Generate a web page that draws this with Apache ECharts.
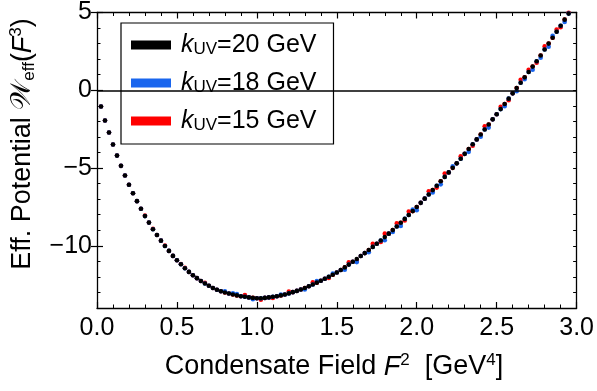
<!DOCTYPE html>
<html>
<head>
<meta charset="utf-8">
<script src="https://cdn.jsdelivr.net/npm/echarts@6/dist/echarts.min.js"></script>
<style>
  html, body { margin: 0; padding: 0; background: #fff; }
  #chart { width: 597px; height: 391px; }
</style>
</head>
<body>
<div id="chart"></div>
<script>
// condensate field F^2 [GeV^4]
const fieldSq = [
  0.025, 0.05, 0.075, 0.1, 0.125, 0.15, 0.175, 0.2, 0.225, 0.25,
  0.275, 0.3, 0.325, 0.35, 0.375, 0.4, 0.425, 0.45, 0.475, 0.5,
  0.525, 0.55, 0.575, 0.6, 0.625, 0.65, 0.675, 0.7, 0.725, 0.75,
  0.775, 0.8, 0.825, 0.85, 0.875, 0.9, 0.925, 0.95, 0.975, 1.0,
  1.025, 1.05, 1.075, 1.1, 1.125, 1.15, 1.175, 1.2, 1.225, 1.25,
  1.275, 1.3, 1.325, 1.35, 1.375, 1.4, 1.425, 1.45, 1.475, 1.5,
  1.525, 1.55, 1.575, 1.6, 1.625, 1.65, 1.675, 1.7, 1.725, 1.75,
  1.775, 1.8, 1.825, 1.85, 1.875, 1.9, 1.925, 1.95, 1.975, 2.0,
  2.025, 2.05, 2.075, 2.1, 2.125, 2.15, 2.175, 2.2, 2.225, 2.25,
  2.275, 2.3, 2.325, 2.35, 2.375, 2.4, 2.425, 2.45, 2.475, 2.5,
  2.525, 2.55, 2.575, 2.6, 2.625, 2.65, 2.675, 2.7, 2.725, 2.75,
  2.775, 2.8, 2.825, 2.85, 2.875, 2.9, 2.925, 2.95
];

const kUV = [20, 18, 15];

// W_eff for k_UV = 20 GeV
const potential20 = [
  -1.04, -1.94, -2.72, -3.49, -4.20, -4.86, -5.48, -6.08, -6.62, -7.13,
  -7.62, -8.09, -8.51, -8.94, -9.31, -9.67, -10.01, -10.33, -10.65, -10.93,
  -11.19, -11.44, -11.68, -11.89, -12.08, -12.26, -12.42, -12.57, -12.71, -12.83,
  -12.92, -13.00, -13.07, -13.13, -13.19, -13.24, -13.28, -13.32, -13.35, -13.37,
  -13.37, -13.35, -13.32, -13.28, -13.24, -13.19, -13.13, -13.06, -12.98, -12.90,
  -12.81, -12.71, -12.60, -12.49, -12.37, -12.25, -12.12, -11.99, -11.86, -11.72,
  -11.56, -11.39, -11.21, -11.03, -10.85, -10.66, -10.47, -10.27, -10.07, -9.87,
  -9.66, -9.44, -9.22, -8.99, -8.76, -8.52, -8.27, -8.02, -7.77, -7.51,
  -7.24, -6.97, -6.70, -6.42, -6.14, -5.85, -5.57, -5.28, -4.99, -4.70,
  -4.40, -4.09, -3.78, -3.47, -3.16, -2.84, -2.52, -2.20, -1.87, -1.54,
  -1.21, -0.88, -0.54, -0.20, 0.14, 0.48, 0.83, 1.17, 1.52, 1.87,
  2.24, 2.62, 3.00, 3.38, 3.76, 4.15, 4.54, 4.93
];

// W_eff for k_UV = 18 GeV
const potential18 = [
  -1.04, -1.94, -2.72, -3.49, -4.20, -4.86, -5.48, -6.08, -6.62, -7.13,
  -7.62, -8.09, -8.51, -8.94, -9.31, -9.67, -10.01, -10.33, -10.65, -10.93,
  -11.19, -11.44, -11.68, -11.89, -12.08, -12.26, -12.42, -12.57, -12.71, -12.83,
  -12.92, -12.92, -13.07, -13.05, -13.11, -13.24, -13.28, -13.32, -13.43, -13.37,
  -13.37, -13.35, -13.32, -13.28, -13.24, -13.14, -13.13, -13.06, -12.98, -12.90,
  -12.81, -12.81, -12.60, -12.49, -12.27, -12.25, -12.12, -11.99, -11.78, -11.72,
  -11.56, -11.54, -11.21, -11.03, -11.05, -10.66, -10.47, -10.42, -10.07, -9.87,
  -9.66, -9.64, -9.22, -9.11, -8.76, -8.72, -8.27, -8.02, -7.67, -7.71,
  -7.24, -6.97, -6.70, -6.57, -6.14, -6.05, -5.57, -5.28, -4.89, -4.70,
  -4.40, -4.09, -3.96, -3.47, -3.16, -2.99, -2.52, -2.40, -1.87, -1.54,
  -1.21, -1.03, -0.54, -0.20, -0.06, 0.48, 0.71, 1.17, 1.32, 1.87,
  2.09, 2.62, 2.80, 3.50, 3.76, 4.15, 4.39, 4.93
];

// W_eff for k_UV = 15 GeV
const potential15 = [
  -1.04, -1.94, -2.72, -3.49, -4.20, -4.86, -5.48, -6.08, -6.62, -7.13,
  -7.62, -8.06, -8.51, -8.91, -9.31, -9.67, -9.98, -10.33, -10.65, -10.93,
  -11.17, -11.42, -11.68, -11.89, -12.08, -12.26, -12.38, -12.57, -12.71, -12.83,
  -12.92, -13.00, -13.07, -13.13, -13.19, -13.24, -13.16, -13.32, -13.35, -13.37,
  -13.47, -13.35, -13.32, -13.36, -13.24, -13.19, -13.13, -12.94, -12.98, -12.90,
  -12.81, -12.71, -12.60, -12.34, -12.37, -12.25, -12.12, -12.07, -11.86, -11.72,
  -11.56, -11.39, -11.06, -11.03, -10.97, -10.66, -10.47, -10.27, -9.87, -9.87,
  -9.76, -9.22, -9.22, -8.99, -8.56, -8.52, -8.37, -7.80, -7.77, -7.51,
  -7.24, -6.97, -6.50, -6.42, -6.26, -5.85, -5.35, -5.28, -4.99, -4.70,
  -4.25, -4.09, -3.78, -3.57, -3.16, -2.84, -2.32, -2.20, -1.87, -1.54,
  -1.06, -0.88, -0.64, -0.20, 0.14, 0.68, 0.83, 1.32, 1.52, 1.77,
  2.24, 2.82, 3.00, 3.38, 3.91, 4.05, 4.54, 4.98
];

const yMajorTicks = [-10, -5, 0, 5];

const FONT = 'Liberation Sans';
const chart = echarts.init(document.getElementById('chart'));

const toPairs = (ys) => ys.map((y, i) => [fieldSq[i], y]);
const nameOf = (k) => 'k_UV=' + k + ' GeV';
const colors = { 20: '#000000', 18: '#1a66ee', 15: '#ff0000' };
const seriesData = { 20: potential20, 18: potential18, 15: potential15 };

const frameLine = { show: true, onZero: false, lineStyle: { color: '#000', width: 1.3 } };

const xAxisBase = (pos) => ({
  type: 'value',
  position: pos,
  min: 0,
  max: 3,
  interval: 0.5,
  axisLine: frameLine,
  axisTick: { inside: true, length: 6, lineStyle: { color: '#000', width: 1.2 } },
  minorTick: { show: true, splitNumber: 5, length: 3.5, lineStyle: { color: '#000', width: 1 } },
  splitLine: { show: false },
  axisLabel: pos === 'bottom'
    ? { color: '#000', fontFamily: FONT, fontSize: 25, margin: 8, formatter: (v) => v.toFixed(1) }
    : { show: false }
});

const yMinorAxis = (pos) => ({
  type: 'value',
  position: pos,
  min: -14,
  max: 5,
  interval: 1,
  axisLine: frameLine,
  axisTick: { inside: true, length: 3.5, lineStyle: { color: '#000', width: 1 } },
  splitLine: { show: false },
  axisLabel: pos === 'left'
    ? {
        color: '#000', fontFamily: FONT, fontSize: 25, margin: 5,
        formatter: (v) => (v % 5 === 0 ? String(v).replace('-', '\u2212') : '')
      }
    : { show: false }
});

const yMajorAxis = (pos) => ({
  type: 'value',
  position: pos,
  min: -14,
  max: 5,
  axisLine: { show: false },
  axisTick: { inside: true, length: 6, customValues: yMajorTicks, lineStyle: { color: '#000', width: 1.2 } },
  axisLabel: { show: false },
  splitLine: { show: false }
});

const series = [15, 18, 20].map((k, idx) => ({
  name: nameOf(k),
  type: 'scatter',
  data: toPairs(seriesData[k]),
  symbol: 'circle',
  symbolSize: 4.6,
  itemStyle: { color: colors[k], opacity: 1 },
  silent: true,
  markLine: idx === 0 ? {
    silent: true,
    symbol: 'none',
    label: { show: false },
    lineStyle: { color: '#000', width: 1.5, type: 'solid' },
    data: [{ yAxis: 0 }]
  } : undefined
}));

const option = {
  animation: false,
  grid: { left: 97, right: 20, top: 12, bottom: 83, containLabel: false },
  xAxis: [xAxisBase('bottom'), xAxisBase('top')],
  yAxis: [yMinorAxis('left'), yMajorAxis('left'), yMinorAxis('right'), yMajorAxis('right')],
  legend: {
    orient: 'vertical',
    left: 121,
    top: 23,
    data: kUV.map(nameOf),
    icon: 'rect',
    itemWidth: 40,
    itemHeight: 9,
    itemGap: 8,
    padding: [7, 17, 8, 10],
    borderColor: '#000',
    borderWidth: 1.2,
    backgroundColor: '#fff',
    selectedMode: false,
    itemStyle: { opacity: 1 },
    formatter: (name) => '{k|k}{s|UV}' + name.split('UV')[1],
    textStyle: {
      fontFamily: FONT,
      fontSize: 25,
      color: '#000',
      lineHeight: 30,
      rich: {
        k: { fontFamily: FONT, fontSize: 25, fontStyle: 'italic', lineHeight: 30, padding: [0, 0, 0, 5] },
        s: { fontFamily: FONT, fontSize: 17, lineHeight: 17, verticalAlign: 'bottom', padding: [0, 0, 2, 0] }
      }
    }
  },
  graphic: [
    {
      type: 'text',
      x: 334,
      y: 367,
      silent: true,
      style: {
        text: 'Condensate Field {i|F}{sup|2}  [GeV{sup|4}]',
        fontFamily: FONT,
        fontSize: 27,
        lineHeight: 30,
        fill: '#000',
        align: 'center',
        verticalAlign: 'middle',
        textAlign: 'center',
        textVerticalAlign: 'middle',
        rich: {
          i: { fontFamily: FONT, fontSize: 27, fontStyle: 'italic', lineHeight: 30 },
          sup: { fontFamily: FONT, fontSize: 17, lineHeight: 17, verticalAlign: 'top' }
        }
      }
    },
    {
      type: 'text',
      x: 23,
      y: 144,
      rotation: Math.PI / 2,
      silent: true,
      style: {
        text: 'Eff. Potential {w|\uD835\uDCB2}{sub|eff}({i|F}{sup|3})',
        fontFamily: FONT,
        fontSize: 27,
        lineHeight: 30,
        fill: '#000',
        align: 'center',
        verticalAlign: 'middle',
        textAlign: 'center',
        textVerticalAlign: 'middle',
        rich: {
          w: { fontFamily: 'DejaVu Sans', fontSize: 28, lineHeight: 30 },
          i: { fontFamily: FONT, fontSize: 27, fontStyle: 'italic', lineHeight: 30 },
          sub: { fontFamily: FONT, fontSize: 17, lineHeight: 17, verticalAlign: 'bottom' },
          sup: { fontFamily: FONT, fontSize: 17, lineHeight: 17, verticalAlign: 'top' }
        }
      }
    }
  ],
  series: series
};

chart.setOption(option);
</script>
</body>
</html>
